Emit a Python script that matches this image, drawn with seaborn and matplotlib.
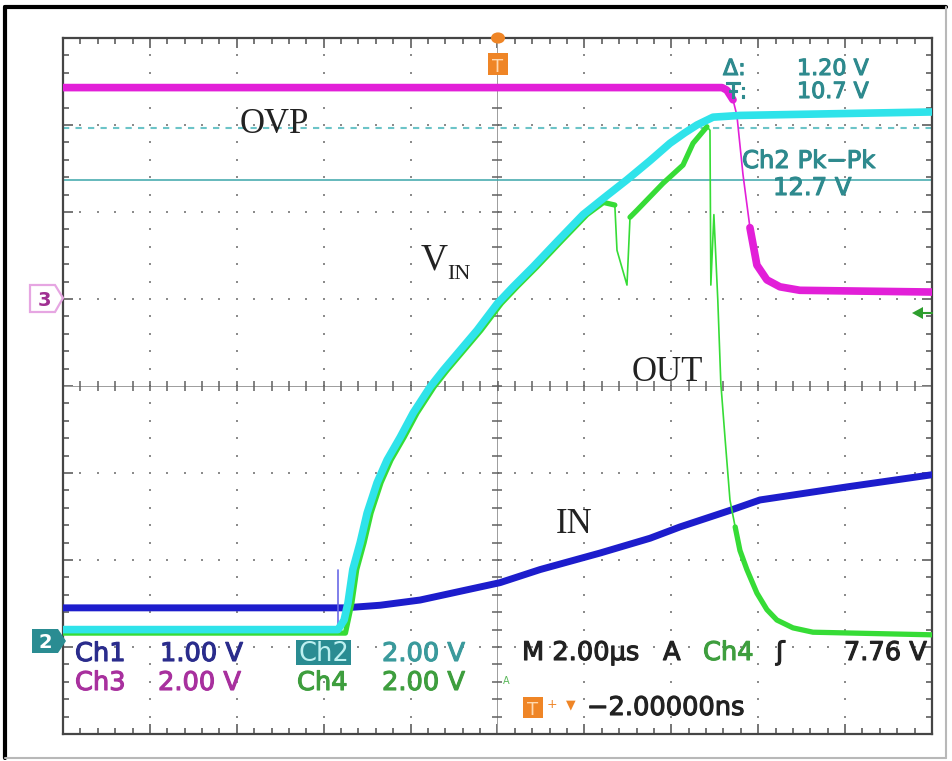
import numpy as np
import pandas as pd
import matplotlib
matplotlib.use("Agg")
import matplotlib.pyplot as plt
import matplotlib.patheffects as pe
from matplotlib.patches import Polygon, Circle
from matplotlib.lines import Line2D
import seaborn as sns

# ---------------- data (time in µs, 2 µs/div, trigger at 0; amplitude in screen divisions)
ch3_t = [-10.0, 5.17, 5.28, 5.42, 5.51, 5.65, 5.81, 5.97, 6.20, 6.50, 6.96, 10.0]
ch3_v = [3.43, 3.43, 3.40, 3.29, 3.11, 2.43, 1.82, 1.39, 1.22, 1.14, 1.10, 1.08]

ch2_t = [-10.0, -3.67, -3.53, -3.44, -3.33, -3.16, -3.00, -2.77, -2.54, -2.24, -1.94,
         -1.55, -1.25, -0.86, -0.47, 0.0, 0.36, 0.82, 1.39, 1.97, 2.47, 2.98, 3.51,
         3.97, 4.31, 4.59, 4.96, 5.58, 10.0]
ch2_v = [-2.80, -2.80, -2.69, -2.49, -2.11, -1.80, -1.46, -1.11, -0.85, -0.59, -0.31,
         -0.01, 0.18, 0.41, 0.64, 0.95, 1.14, 1.37, 1.67, 1.97, 2.17, 2.37, 2.59,
         2.79, 2.91, 3.00, 3.09, 3.11, 3.15]

ch4_t = [-10.0, -3.50, -3.35, -3.24, -3.07, -2.91, -2.68, -2.45, -2.15, -1.85, -1.46,
         -1.16, -0.77, -0.38, 0.09, 0.45, 0.91, 1.48, 2.06, 2.44, 2.70, 2.75, 2.98,
         3.05, 3.21, 3.81, 4.27, 4.50, 4.82, 4.89, 4.91, 4.98, 5.07, 5.14, 5.24, 5.35,
         5.47, 5.58, 5.74, 5.97, 6.20, 6.43, 6.80, 7.26, 10.0]
ch4_v = [-2.84, -2.84, -2.49, -2.11, -1.80, -1.46, -1.11, -0.85, -0.59, -0.31, -0.01,
         0.18, 0.41, 0.64, 0.95, 1.14, 1.37, 1.67, 1.97, 2.11, 2.08, 1.56, 1.16,
         1.94, 2.02, 2.33, 2.54, 2.79, 2.98, 2.94, 1.16, 1.97, 0.99, 0.03, -0.62, -1.31,
         -1.62, -1.89, -2.11, -2.38, -2.57, -2.69, -2.78, -2.83, -2.86]

ch1_t = [-10.0, -3.51, -2.70, -1.78, 0.06, 0.98, 2.36, 3.51, 4.20, 5.35, 6.04, 8.04, 10.0]
ch1_v = [-2.55, -2.55, -2.52, -2.46, -2.26, -2.11, -1.92, -1.75, -1.62, -1.43, -1.31, -1.16, -1.02]

ch1_glitch_t = [-3.67, -3.67]
ch1_glitch_v = [-2.11, -2.77]

ovp_level = 2.97       # dotted cursor
pkpk_level = 2.37      # solid cursor

# fast (thinly drawn) parts of the traces, in µs
ch3_fast = [(5.42, 5.81)]
ch4_fast = [(2.70, 3.05), (4.82, 5.47)]

readout_top = [("Δ:", "1.20 V"), ("Ŧ:", "10.7 V")]
meas_label, meas_value = "Ch2 Pk−Pk", "12.7 V"
ch_scales = {"Ch1": "1.00 V", "Ch2": "2.00 V", "Ch3": "2.00 V", "Ch4": "2.00 V"}
timebase, trig_src, trig_level, trig_pos = "M 2.00µs", "Ch4", "7.76 V", "−2.00000ns"

# ---------------- style
sns.set_theme(style="white")
plt.rcParams["font.family"] = ["DejaVu Sans"]

W, H = 952, 761
fig = plt.figure(figsize=(W / 100, H / 100), dpi=100)
fig.patch.set_facecolor("white")
L, R, T, B = 63, 932, 38, 734
ax = fig.add_axes([L / W, 1 - B / H, (R - L) / W, (B - T) / H])
ax.set_facecolor("white")

MAG = "#e21fd8"
CYA = "#2fe3ea"
BLU = "#1d1dcc"
GRN = "#36dc36"
TEAL = "#2e8a8e"
NAVY = "#2a2c8c"
MAGT = "#a8309e"
GRNT = "#3e9e3e"
ORG = "#ef8526"
DARK = "#222222"

# graticule dots
dot_kw = dict(s=3, color="#8c8c8c", marker="s", linewidths=0, zorder=1)
for gx in np.arange(-8, 9, 2):
    if gx == 0:
        continue
    ys = np.arange(-4, 4.001, 0.2)
    ax.scatter(np.full_like(ys, gx), ys, **dot_kw)
for gy in np.arange(-3, 4, 1):
    if gy == 0:
        continue
    xs = np.arange(-10, 10.001, 0.4)
    ax.scatter(xs, np.full_like(xs, gy), **dot_kw)

# centre cross with ticks
ax.axhline(0, color="#9c9c9c", lw=0.7, zorder=1)
ax.axvline(0, color="#9c9c9c", lw=0.7, zorder=1)
xs = np.arange(-10, 10.001, 0.4)
ax.plot(xs, np.zeros_like(xs), ls="none", marker="|", ms=7, mew=1.1, color="#606060", zorder=1)
ys = np.arange(-4, 4.001, 0.2)
ax.plot(np.zeros_like(ys), ys, ls="none", marker="_", ms=7, mew=1.1, color="#606060", zorder=1)

# cursors
ax.axhline(ovp_level, color="#6cc4c8", lw=1.5, ls=(0, (3, 3)), zorder=2)
ax.axhline(pkpk_level, color="#3aa6aa", lw=1.1, zorder=2)


def trace(t, v, color, lw, fast=(), thin=1.2, z=3):
    t = np.asarray(t, float)
    v = np.asarray(v, float)
    if fast:
        sns.lineplot(x=t, y=v, color=color, lw=thin, sort=False, estimator=None, ax=ax,
                     zorder=z, legend=False)
    keep = np.ones(len(t), bool)
    for a, b in fast:
        keep &= ~((t > a) & (t < b))
    seg = np.cumsum(~keep)
    df = pd.DataFrame({"t": t[keep], "v": v[keep], "seg": seg[keep]})
    sns.lineplot(data=df, x="t", y="v", units="seg", estimator=None, sort=False, color=color,
                 lw=lw, ax=ax, zorder=z, legend=False, solid_joinstyle="round",
                 solid_capstyle="round")


trace(ch1_t, ch1_v, BLU, 5.0, z=3)
sns.lineplot(x=ch1_glitch_t, y=ch1_glitch_v, color="#6a6ae6", lw=1.2, estimator=None,
             sort=False, ax=ax, zorder=3, legend=False)
trace(ch3_t, ch3_v, MAG, 5.5, fast=ch3_fast, z=3)
trace(ch4_t, ch4_v, GRN, 3.8, fast=ch4_fast, z=3.5)
trace(ch2_t, ch2_v, CYA, 5.5, z=4)

ax.set_xlim(-10, 10)
ax.set_ylim(-4, 4)
ax.set_xticks(np.arange(-10, 10.01, 2))
ax.set_yticks(np.arange(-4, 4.01, 1))
ax.set_xticks(np.arange(-10, 10.01, 0.4), minor=True)
ax.set_yticks(np.arange(-4, 4.01, 0.2), minor=True)
ax.tick_params(which="both", direction="in", top=True, right=True, bottom=True, left=True,
               labelbottom=False, labelleft=False, color="#505050", width=1.1)
ax.tick_params(which="minor", length=4.5)
ax.tick_params(which="major", length=7)
ax.grid(False)
for s in ax.spines.values():
    s.set_color("#454545")
    s.set_linewidth(1.6)
ax.set_xlabel("")
ax.set_ylabel("")


# ---------------- text and icons (figure pixel coordinates)
def fx(x):
    return x / W


def fy(y):
    return 1 - y / H


def ftext(x, y, s, color, size=18.5, ha="left", va="baseline", family=None, stroke=True):
    kw = {}
    if family:
        kw["family"] = family
    t = fig.text(fx(x), fy(y), s, color=color, fontsize=size, ha=ha, va=va, **kw)
    if stroke:
        t.set_path_effects([pe.withStroke(linewidth=0.8, foreground=color)])
    return t


def fpoly(pts, **kw):
    p = Polygon([(fx(a), fy(b)) for a, b in pts], closed=True, transform=fig.transFigure, **kw)
    fig.add_artist(p)
    return p


# outer frame
fig.add_artist(Line2D([fx(5), fx(5)], [fy(7), fy(758)], color="black", lw=3, transform=fig.transFigure))
fig.add_artist(Line2D([fx(5), fx(946)], [fy(7), fy(7)], color="black", lw=3, transform=fig.transFigure))
fig.add_artist(Line2D([fx(946), fx(946)], [fy(7), fy(758)], color="#b8b8b8", lw=1.5, transform=fig.transFigure))
fig.add_artist(Line2D([fx(5), fx(946)], [fy(758), fy(758)], color="#b8b8b8", lw=1.5, transform=fig.transFigure))

# annotations (serif)
SER = "Liberation Serif"
ftext(240, 133, "OVP", DARK, size=25, family=SER, stroke=False)
ftext(421, 270, "V", DARK, size=27, family=SER, stroke=False)
ftext(447, 279, "IN", DARK, size=16, family=SER, stroke=False)
ftext(632, 381, "OUT", DARK, size=25, family=SER, stroke=False)
ftext(556, 533, "IN", DARK, size=25, family=SER, stroke=False)

# cursor readouts
ftext(723, 75, readout_top[0][0], TEAL, size=16)
ftext(797, 75, readout_top[0][1], TEAL, size=16)
ftext(726, 98, readout_top[1][0], TEAL, size=16)
ftext(797, 98, readout_top[1][1], TEAL, size=16)
ftext(742, 168, meas_label, TEAL, size=17.5)
ftext(773, 195, meas_value, TEAL, size=17.5)

# channel scale readouts
ftext(75, 661, "Ch1", NAVY)
ftext(160, 661, ch_scales["Ch1"], NAVY)
fpoly([(296, 640), (351, 640), (351, 665), (296, 665)], facecolor="#2a8c92", edgecolor="none")
ftext(298, 661, "Ch2", "#bdf0f0", stroke=False)
ftext(382, 661, ch_scales["Ch2"], "#3a9a9c")
ftext(75, 690, "Ch3", MAGT)
ftext(158, 690, ch_scales["Ch3"], MAGT)
ftext(297, 690, "Ch4", GRNT)
ftext(382, 690, ch_scales["Ch4"], GRNT)

ftext(522, 660, timebase, DARK)
ftext(663, 660, "A", DARK)
ftext(703, 660, trig_src, GRNT)
ftext(776, 660, "ʃ", DARK)
ftext(927, 660, trig_level, DARK, ha="right")
ftext(503, 684, "A", "#5ab85a", size=7, stroke=False)

# trigger position readout
fpoly([(523, 697), (543, 697), (543, 718), (523, 718)], facecolor=ORG, edgecolor="none")
ftext(533, 715, "T", "#ffd9b0", size=13, ha="center", stroke=False)
ftext(552, 708, "+", ORG, size=9, ha="center", stroke=False)
ftext(571, 708, "▼", ORG, size=9, ha="center", stroke=False)
ftext(587, 715, trig_pos, DARK)

# channel ground markers
fpoly([(32, 629), (58, 629), (66, 641), (58, 653), (32, 653)], facecolor="#2a8c92", edgecolor="none")
ftext(45, 648, "2", "white", size=14, ha="center", stroke=False).set_fontweight("bold")
fpoly([(30, 285), (55, 285), (63, 298), (55, 312), (30, 312)], facecolor="none",
      edgecolor="#e6a6e2", lw=1.6)
ftext(44, 306, "3", "#a03092", size=14, ha="center", stroke=False).set_fontweight("bold")

# trigger position (top) and level (right) markers
fig.add_artist(Circle((fx(498), fy(38)), 7 / W, transform=fig.transFigure, facecolor=ORG, edgecolor="none"))
fpoly([(488, 53), (508, 53), (508, 75), (488, 75)], facecolor=ORG, edgecolor="none")
ftext(498, 72, "T", "#ffd9b0", size=13, ha="center", stroke=False)
fpoly([(912, 313), (923, 307), (923, 319)], facecolor="#2e9e2e", edgecolor="none")
fig.add_artist(Line2D([fx(922), fx(932)], [fy(313), fy(313)], color="#2e9e2e", lw=1.5, transform=fig.transFigure))

fig.savefig("out.png", dpi=100, facecolor="white")
